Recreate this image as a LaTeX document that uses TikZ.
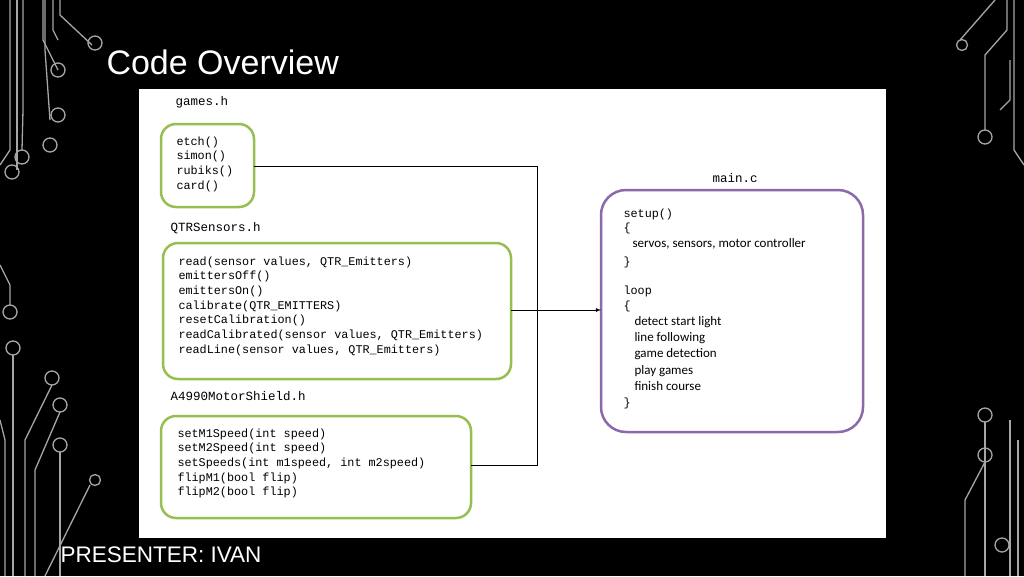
\documentclass[tikz,border=0pt]{standalone}
\usepackage{fontspec}
\setmainfont{Liberation Sans}
\newfontfamily\codefont{Liberation Mono}
\newfontfamily\bodyfont{Carlito}
\definecolor{boxgreen}{RGB}{150,190,80}
\definecolor{boxpurple}{RGB}{140,105,170}
\begin{document}
\begin{tikzpicture}
[x=1pt, y=-1pt, line width=1pt,
trace/.style={draw=gray!70, line width=1.3pt},
pad/.style={circle, draw=gray!70, line width=1.3pt, inner sep=0pt, minimum size=14pt},
grnbox/.style={rectangle, draw=boxgreen, line width=2.5pt, rounded corners=15pt, fill=white},
purbox/.style={rectangle, draw=boxpurple, line width=2.5pt, rounded corners=25pt, fill=white},
code/.style={anchor=north west, align=left, inner sep=0pt, font=\codefont\fontsize{11.8}{14.7}\selectfont},
body/.style={anchor=north west, align=left, inner sep=0pt, font=\bodyfont\fontsize{13}{16.2}\selectfont},
fname/.style={anchor=west, inner sep=0pt, font=\codefont\fontsize{12.5}{13}\selectfont}]

\fill[black] (0,0) rectangle (1024,576);
\useasboundingbox (0,0) rectangle (1024,576);

% circuit traces, left
\draw[trace] (10,0) -- (10,150) -- (0,165);
\draw[trace] (17,0) -- (17,170);
\node[pad] (pl1) at (12,172) {};
\draw[trace] (23,0) -- (23,110) -- (22,150);
\node[pad] (pl2) at (22,157) {};
\draw[trace] (43,0) -- (43,40) -- (58,70);
\draw[trace] (53,0) -- (53,30) -- (58,40);
\node[pad] (pl3) at (58,70) {};
\draw[trace] (45,0) -- (45,50) -- (50,120);
\draw[trace] (60,0) -- (60,15) -- (92,45);
\node[pad] (pl4) at (95,43) {};
\node[pad] (pl5) at (58,115) {};
\node[pad] (pl6) at (50,145) {};
\draw[trace] (0,265) -- (10,285) -- (10,305);
\node[pad] (pl7) at (10,312) {};
\node[pad] (pl8) at (13,348) {};
\draw[trace] (13,355) -- (13,576);
\node[pad] (pl9) at (52,378) {};
\draw[trace] (52,385) -- (25,440) -- (25,576);
\node[pad] (pl10) at (60,405) {};
\draw[trace] (60,412) -- (35,470) -- (35,576);
\node[pad] (pl11) at (60,445) {};
\draw[trace] (60,452) -- (60,576);
\node[pad, minimum size=11pt] (pl12) at (95,480) {};
\draw[trace] (90,485) -- (45,576);
\draw[trace] (0,420) -- (5,440) -- (5,576);

% circuit traces, right
\draw[trace] (1014,0) -- (1014,150) -- (1024,165);
\draw[trace] (1007,0) -- (1007,30) -- (985,55) -- (985,130);
\node[pad] (pr1) at (985,137) {};
\draw[trace] (995,0) -- (960,40);
\node[pad, minimum size=11pt] (pr2) at (962,45) {};
\draw[trace] (1010,60) -- (1010,100) -- (1000,110);
\node[pad] (pr3) at (985,415) {};
\draw[trace] (985,422) -- (985,576);
\node[pad] (pr4) at (985,455) {};
\draw[trace] (985,462) -- (965,500) -- (965,576);
\draw[trace] (1010,420) -- (1010,576);
\draw[trace] (1018,440) -- (1018,576);
\node[pad] (pr5) at (1002,545) {};

% title and footer
\node[anchor=west, inner sep=0pt, text=white, font=\fontsize{34}{36}\selectfont] (title) at (106,62) {Code Overview};
\node[anchor=west, inner sep=0pt, text=white, font=\fontsize{22.5}{24}\selectfont] (presenter) at (60,555) {PRESENTER: IVAN};

% white panel
\fill[white] (139,89) rectangle (886,538);

% file names
\node[fname] (gamesh) at (175,102) {games.h};
\node[fname] (qtrh) at (170,228) {QTRSensors.h};
\node[fname] (motorh) at (170,396) {A4990MotorShield.h};
\node[fname, anchor=center] (mainc) at (735,178) {main.c};

% boxes
\draw[grnbox] (161,124) rectangle (254,207);
\node[code] (gamestxt) at (176,136) {etch()\\simon()\\rubiks()\\card()};
\draw[grnbox] (163,243) rectangle (511,379);
\node[code] (qtrtxt) at (178,256) {read(sensor values, QTR\_Emitters)\\emittersOff()\\emittersOn()\\calibrate(QTR\_EMITTERS)\\resetCalibration()\\readCalibrated(sensor values, QTR\_Emitters)\\readLine(sensor values, QTR\_Emitters)};
\draw[grnbox] (161,416) rectangle (471,518);
\node[code] (motortxt) at (177,428) {setM1Speed(int speed)\\setM2Speed(int speed)\\setSpeeds(int m1speed, int m2speed)\\flipM1(bool flip)\\flipM2(bool flip)};
\draw[purbox] (601,190) rectangle (863,432);
\node[code] (setuptxt) at (623,208) {setup()\\\{};
\node[body] (setupbody) at (632,238) {servos, sensors, motor controller};
\node[code] (closetxt) at (623,256) {\}\\[14.7pt]loop\\\{};
\node[body] (loopbody) at (634,316) {detect start light\\line following\\game detection\\play games\\finish course};
\node[code] (closeloop) at (623,397) {\}};

% connectors
\coordinate (gamesout) at (254,166);
\coordinate (qtrout) at (511,310);
\coordinate (motorout) at (471,465);
\coordinate (mainin) at (601,310);
\draw[line width=0.8pt] (gamesout) -- (537,166) -- (537,465) -- (motorout);
\draw[line width=0.8pt, -latex] (qtrout) -- (mainin);
\end{tikzpicture}
\end{document}
